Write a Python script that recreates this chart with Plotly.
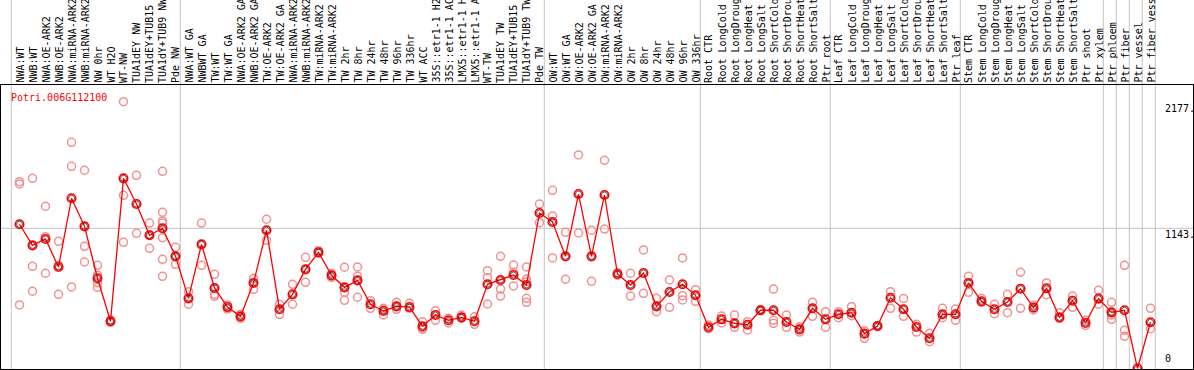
import plotly.graph_objects as go

gene_name = "Potri.006G112100"

categories = [
    "NWA:WT", "NWB:WT", "NWA:OE-ARK2", "NWB:OE-ARK2", "NWA:miRNA-ARK2", "NWB:miRNA-ARK2",
    "NW 0hr", "WT H2O", "WT-NW", "TUA1dEY NW", "TUA1dEY+TUB15 NW", "TUA1dY+TUB9 NW", "Pde NW",
    "NWA:WT GA", "NWBWT GA", "TW:WT", "TW:WT GA", "NWA:OE-ARK2 GA", "NWB:OE-ARK2 GA",
    "TW:OE-ARK2", "TW:OE-ARK2 GA", "NWA:miRNA-ARK2 GA", "NWB:miRNA-ARK2 GA", "TW:miRNA-ARK2",
    "TW:miRNA-ARK2 GA", "TW 2hr", "TW 8hr", "TW 24hr", "TW 48hr", "TW 96hr", "TW 336hr",
    "WT ACC", "35S::etr1-1 H2O", "35S::etr1-1 ACC", "LMX5::etr1-1 H2O", "LMX5::etr1-1 ACC",
    "WT-TW", "TUA1dEY TW", "TUA1dEY+TUB15 TW", "TUA1dY+TUB9 TW", "Pde TW",
    "OW:WT", "OW:WT GA", "OW:OE-ARK2", "OW:OE-ARK2 GA", "OW:miRNA-ARK2", "OW:miRNA-ARK2 GA",
    "OW 2hr", "OW 8hr", "OW 24hr", "OW 48hr", "OW 96hr", "OW 336hr",
    "Root CTR", "Root LongCold", "Root LongDrought", "Root LongHeat", "Root LongSalt",
    "Root ShortCold", "Root ShortDrought", "Root ShortHeat", "Root ShortSalt", "Ptr root",
    "Leaf CTR", "Leaf LongCold", "Leaf LongDrought", "Leaf LongHeat", "Leaf LongSalt",
    "Leaf ShortCold", "Leaf ShortDrought", "Leaf ShortHeat", "Leaf ShortSalt", "Ptr leaf",
    "Stem CTR", "Stem LongCold", "Stem LongDrought", "Stem LongHeat", "Stem LongSalt",
    "Stem ShortCold", "Stem ShortDrought", "Stem ShortHeat", "Stem ShortSalt", "Ptr shoot",
    "Ptr xylem", "Ptr phloem", "Ptr fiber", "Ptr vessel", "Ptr fiber vessel",
]

means = [
    1176, 1004, 1056, 827, 1388, 1159, 735, 384, 1551, 1341, 1086, 1143, 914,
    571, 1012, 656, 500, 424, 697, 1127, 482, 604, 808, 947, 759, 661, 718, 523,
    468, 506, 500, 343, 435, 392, 416, 384, 686, 721, 762, 680, 1268,
    1195, 914, 1423, 914, 1415, 770, 680, 778, 506, 623, 686, 596,
    335, 400, 367, 356, 474, 474, 378, 318, 490, 400,
    441, 454, 283, 345, 576, 482, 337, 245, 441, 441,
    697, 547, 482, 541, 650, 495, 653, 416, 552, 370, 569,
    457, 474, 0, 376,
]

replicates = [
    [1524, 1505, 517], [1551, 833, 629], [1323, 1075, 776], [1037, 604, 840],
    [1845, 1649, 664], [1617, 996, 868], [841, 760, 700, 661], [395, 380, 375],
    [2177, 1412, 1029], [1576, 1102], [1186, 980, 1090],
    [1608, 1274, 1203, 1186, 1066, 890, 751], [988, 849],
    [626, 523], [1186, 841], [767, 604, 588], [517, 484], [441, 408], [735, 645],
    [1217, 1045], [523, 441], [686, 523], [906, 702], [960, 940], [776, 743],
    [825, 620, 555], [827, 751, 580], [552, 490], [490, 480, 436], [539, 482],
    [531, 490], [381, 330, 318], [470, 392], [408, 370], [435, 408], [421, 359],
    [797, 740, 525], [914, 647, 590], [843, 784, 672], [827, 729, 707, 571, 539],
    [1341, 1189],
    [1453, 1244, 901], [1110, 727], [1742, 1105], [1127, 710], [1698, 1137],
    [780, 760], [776, 590], [966, 612], [571, 462], [721, 498], [901, 593, 558],
    [642, 547],
    [354, 323], [427, 370], [435, 335], [381, 313], [480, 470], [647, 392, 367],
    [435, 335], [340, 296], [539, 424], [462, 335],
    [462, 413], [503, 429], [305, 245], [350, 340], [626, 490], [569, 424],
    [359, 296], [286, 217], [490, 413], [484, 392],
    [751, 620], [569, 539], [523, 446], [604, 454], [784, 490], [514, 476],
    [697, 601], [454, 408], [590, 498], [392, 350], [637, 523],
    [539, 435, 400], [841, 310, 261], [], [490, 323],
]

group_starts = [0, 13, 41, 53, 63, 73, 84, 85, 86, 87, 88]
y_tick_values = [2177, 1143, 0]
y_tick_labels = ["2177.", "1143.", "0"]

W, H = 1194, 370
MONO = "DejaVu Sans Mono"

xs = list(range(len(categories)))
rep_x, rep_y = [], []
for i, reps in enumerate(replicates):
    for v in reps:
        rep_x.append(i)
        rep_y.append(v)

fig = go.Figure()
fig.add_trace(go.Scatter(
    x=rep_x, y=rep_y, mode="markers", hoverinfo="skip",
    marker=dict(symbol="circle-open", size=8, color="rgb(240,145,145)", line=dict(width=1.5)),
))
fig.add_trace(go.Scatter(
    x=xs, y=means, mode="lines+markers",
    line=dict(color="red", width=1.3),
    marker=dict(symbol="circle-open", size=8.5, color="red", line=dict(width=1.6)),
))
fig.add_trace(go.Scatter(
    x=xs, y=means, mode="markers", hoverinfo="skip",
    marker=dict(symbol="circle-open", size=6, color="rgb(60,0,0)", line=dict(width=0.7)),
))

shapes = []
for b in group_starts:
    shapes.append(dict(type="line", xref="x", yref="paper", x0=b - 0.63, x1=b - 0.63,
                       y0=0, y1=1.31, line=dict(color="#c4c4c4", width=1), layer="below"))
shapes.append(dict(type="line", xref="paper", yref="y", x0=0, x1=1, y0=1143, y1=1143,
                   line=dict(color="#c4c4c4", width=1), layer="below"))

annotations = []
for i, c in enumerate(categories):
    annotations.append(dict(x=i, y=1, xref="x", yref="paper", text=c, textangle=-90,
                            xanchor="center", yanchor="bottom", showarrow=False, yshift=0,
                            xshift=0,
                            font=dict(family=MONO, size=10, color="black")))
annotations.append(dict(x=8 / 1192, y=(369 - 97) / 284, xref="paper", yref="paper",
                        text=gene_name, xanchor="left", yanchor="middle", showarrow=False,
                        font=dict(family=MONO, size=10, color="red")))
for v, t in zip(y_tick_values, y_tick_labels):
    annotations.append(dict(x=(1163 - 1) / 1192, y=v, xref="paper", yref="y", text=t,
                            xanchor="left", yanchor="bottom" if v == 0 else "top",
                            yshift=2 if v == 0 else 1, showarrow=False,
                            font=dict(family=MONO, size=10, color="black")))

fig.update_layout(
    width=W, height=H,
    margin=dict(l=1, r=1, t=85, b=1, pad=0),
    paper_bgcolor="white", plot_bgcolor="white",
    showlegend=False,
    shapes=shapes, annotations=annotations,
    xaxis=dict(range=[(1 - 19.5) / 13, (1193 - 19.5) / 13], showgrid=False, zeroline=False,
               showticklabels=False, ticks="", showline=True, mirror=True,
               linecolor="black", linewidth=1),
    yaxis=dict(range=[-5.7, 2313], showgrid=False, zeroline=False,
               showticklabels=False, ticks="", showline=True, mirror=True,
               linecolor="black", linewidth=1),
)

fig.write_html("out.html", config={"displayModeBar": False},
               post_script="document.body.style.margin='0';document.body.style.padding='0';")
